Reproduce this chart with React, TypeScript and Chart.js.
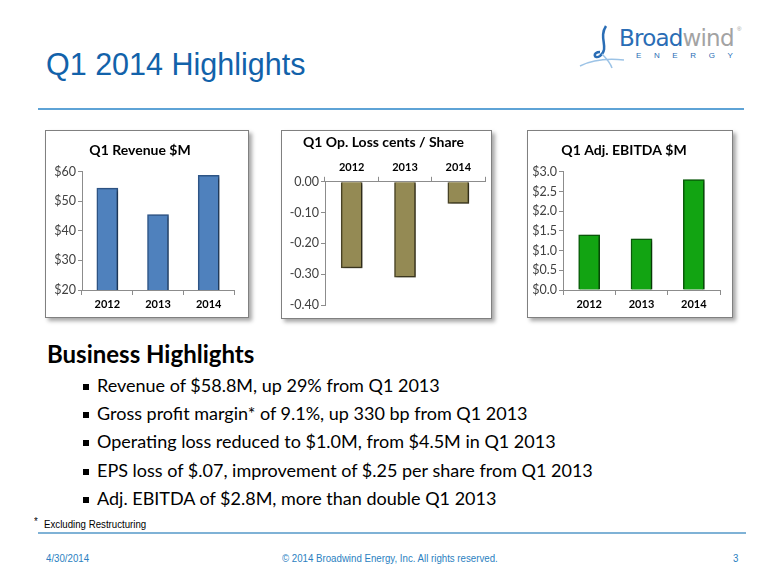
import React, { useEffect, useRef } from "react";
import { Chart, registerables } from "chart.js";

Chart.register(...registerables);

const years = ["2012", "2013", "2014"];
const revenue = [54.5, 45.5, 58.8];
const opLoss = [-0.28, -0.31, -0.07];
const ebitda = [1.4, 1.3, 2.8];

const revenueTitle = "Q1 Revenue $M";
const opLossTitle = "Q1 Op. Loss cents / Share";
const ebitdaTitle = "Q1 Adj. EBITDA $M";

const bullets = [
  "Revenue of $58.8M, up 29% from Q1 2013",
  "Gross profit margin* of 9.1%, up 330 bp from Q1 2013",
  "Operating loss reduced to $1.0M, from $4.5M in Q1 2013",
  "EPS loss of $.07, improvement of $.25 per share from Q1 2013",
  "Adj. EBITDA of $2.8M, more than double Q1 2013",
];

const FONT = "Lato, 'Open Sans', sans-serif";
const AXIS = "#8c8c8c";

const barShadow = {
  id: "barShadow",
  beforeDatasetsDraw(chart: any) {
    const c = chart.ctx;
    c.save();
    c.shadowColor = "rgba(0,0,0,0.45)";
    c.shadowBlur = 3;
    c.shadowOffsetX = 2;
    c.shadowOffsetY = 1;
  },
  afterDatasetsDraw(chart: any) {
    chart.ctx.restore();
  },
};

type BoxProps = {
  left: number;
  top: number;
  width: number;
  height: number;
  build: () => any;
};

function ChartBox({ left, top, width, height, build }: BoxProps) {
  const ref = useRef<HTMLCanvasElement | null>(null);
  useEffect(() => {
    if (!ref.current) return;
    const chart = new Chart(ref.current, build());
    return () => chart.destroy();
  }, []);
  return (
    <div
      style={{
        position: "absolute",
        left,
        top,
        width,
        height,
        boxSizing: "border-box",
        border: "1px solid #808080",
        background: "#fff",
        boxShadow: "3px 3px 4px rgba(0,0,0,0.35)",
      }}
    >
      <canvas
        ref={ref}
        width={width - 2}
        height={height - 2}
        style={{ display: "block", width: width - 2, height: height - 2 }}
      />
    </div>
  );
}

function baseConfig(opts: {
  title: string;
  data: number[];
  fill: string;
  edge: string;
  yMin: number;
  yMax: number;
  step: number;
  fmt: (v: number) => string;
  yWidth: number;
  xHeight: number;
  xTop: boolean;
  padRight: number;
  padBottom: number;
  titlePad: { top: number; bottom: number };
}) {
  return {
    type: "bar",
    data: {
      labels: years,
      datasets: [
        {
          data: opts.data,
          backgroundColor: opts.fill,
          borderColor: opts.edge,
          borderWidth: 1.5,
          barThickness: 21,
        },
      ],
    },
    plugins: [barShadow],
    options: {
      responsive: false,
      animation: false,
      layout: { padding: { left: 0, top: 0, right: opts.padRight, bottom: opts.padBottom } },
      plugins: {
        legend: { display: false },
        tooltip: { enabled: false },
        title: {
          display: true,
          text: opts.title,
          color: "#000",
          font: { family: FONT, size: 14, weight: "bold" },
          padding: opts.titlePad,
        },
      },
      scales: {
        x: {
          position: opts.xTop ? "top" : "bottom",
          afterFit: (s: any) => {
            s.height = opts.xHeight;
          },
          grid: {
            offset: true,
            drawOnChartArea: false,
            drawTicks: true,
            tickLength: 5,
            color: AXIS,
          },
          border: { display: true, color: AXIS },
          ticks: {
            color: "#000",
            padding: 3,
            font: { family: FONT, size: 11, weight: "bold" },
          },
        },
        y: {
          min: opts.yMin,
          max: opts.yMax,
          afterFit: (s: any) => {
            s.width = opts.yWidth;
          },
          grid: {
            drawOnChartArea: false,
            drawTicks: true,
            tickLength: 4,
            color: AXIS,
          },
          border: { display: true, color: AXIS },
          ticks: {
            stepSize: opts.step,
            color: "#404040",
            padding: 2,
            font: { family: FONT, size: 12.5 },
            callback: (v: any) => opts.fmt(Number(v)),
          },
        },
      },
    },
  };
}

const buildRevenue = () =>
  baseConfig({
    title: revenueTitle,
    data: revenue,
    fill: "#4f81bd",
    edge: "#2f5688",
    yMin: 20,
    yMax: 60,
    step: 10,
    fmt: (v) => "$" + v,
    yWidth: 36,
    xHeight: 27,
    xTop: false,
    padRight: 14,
    padBottom: 0,
    titlePad: { top: 11, bottom: 13 },
  });

const buildOpLoss = () =>
  baseConfig({
    title: opLossTitle,
    data: opLoss,
    fill: "#948a54",
    edge: "#4a4426",
    yMin: -0.4,
    yMax: 0,
    step: 0.1,
    fmt: (v) => v.toFixed(2),
    yWidth: 43,
    xHeight: 29,
    xTop: true,
    padRight: 6,
    padBottom: 13,
    titlePad: { top: 3, bottom: 2 },
  });

const buildEbitda = () =>
  baseConfig({
    title: ebitdaTitle,
    data: ebitda,
    fill: "#12a412",
    edge: "#0a5c0a",
    yMin: 0,
    yMax: 3,
    step: 0.5,
    fmt: (v) => "$" + v.toFixed(1),
    yWidth: 35,
    xHeight: 27,
    xTop: false,
    padRight: 12,
    padBottom: 0,
    titlePad: { top: 11, bottom: 13 },
  });

export default function App() {
  useEffect(() => {
    document.body.style.margin = "0";
  }, []);
  const abs = (s: React.CSSProperties): React.CSSProperties => ({
    position: "absolute",
    whiteSpace: "nowrap",
    ...s,
  });
  const footFont = "'Liberation Sans', Arial, sans-serif";
  const narrow: React.CSSProperties = {
    fontFamily: footFont,
    fontSize: 11,
    lineHeight: "13px",
    transform: "scaleX(0.88)",
    transformOrigin: "left center",
  };
  return (
    <div
      style={{
        position: "absolute",
        left: 0,
        top: 0,
        width: 780,
        height: 585,
        background: "#fff",
        overflow: "hidden",
      }}
    >
      <div
        style={abs({
          left: 46,
          top: 49,
          fontFamily: "'Liberation Sans', Arial, sans-serif",
          fontSize: 30.5,
          lineHeight: "30px",
          color: "#1262aa",
        })}
      >
        Q1 2014 Highlights
      </div>

      {/* logo */}
      <svg style={{ position: "absolute", left: 578, top: 22 }} width={52} height={48}>
        <path d="M28 4 C 20 16, 32 26, 22 34 C 16 38, 14 30, 22 30" stroke="#2a6db5" strokeWidth={2.5} fill="none" />
        <path d="M2 44 C 14 38, 28 36, 46 38" stroke="#9cc3e6" strokeWidth={1.5} fill="none" />
        <path d="M24 32 C 28 36, 32 40, 34 46" stroke="#9cc3e6" strokeWidth={1.5} fill="none" />
      </svg>
      <div
        style={abs({
          left: 619,
          top: 25,
          fontFamily: "'DejaVu Sans', sans-serif",
          fontSize: 23,
          lineHeight: "26px",
          letterSpacing: -0.8,
        })}
      >
        <span style={{ color: "#2a6db5" }}>Broad</span>
        <span style={{ color: "#a3a3a3" }}>wind</span>
      </div>
      <div style={abs({ left: 737, top: 26, fontSize: 6, color: "#999", fontFamily: "sans-serif" })}>®</div>
      <div
        style={abs({
          left: 636,
          top: 51,
          fontFamily: "'Liberation Sans', sans-serif",
          fontSize: 8,
          lineHeight: "9px",
          letterSpacing: 12.6,
          color: "#2a6db5",
        })}
      >
        ENERGY
      </div>

      <div style={abs({ left: 38, top: 108, width: 706, height: 2, background: "#5ea3d6" })} />

      <ChartBox left={45} top={130} width={204} height={188} build={buildRevenue} />
      <ChartBox left={281} top={130} width={211} height={189} build={buildOpLoss} />
      <ChartBox left={527} top={130} width={206} height={188} build={buildEbitda} />

      <div
        style={abs({
          left: 47,
          top: 340,
          fontFamily: FONT,
          fontWeight: "bold",
          fontSize: 24,
          lineHeight: 1.2,
          color: "#000",
        })}
      >
        Business Highlights
      </div>
      {bullets.map((b, i) => (
        <div
          key={i}
          style={abs({
            left: 97,
            top: 375 + i * 28.2,
            fontFamily: FONT,
            fontSize: 18,
            lineHeight: 1.2,
            color: "#000",
          })}
        >
          <span
            style={{
              position: "absolute",
              left: -14,
              top: 9,
              width: 6,
              height: 6,
              background: "#000",
            }}
          />
          {b}
        </div>
      ))}

      <div style={abs({ ...narrow, left: 34, top: 515, color: "#000" })}>*</div>
      <div style={abs({ ...narrow, left: 44, top: 518, color: "#000" })}>Excluding Restructuring</div>
      <div style={abs({ left: 38, top: 532, width: 708, height: 2, background: "#7fb2d6" })} />

      <div style={abs({ ...narrow, left: 46, top: 552, color: "#2b7fc1" })}>4/30/2014</div>
      <div style={abs({ ...narrow, left: 282, top: 552, color: "#2b7fc1" })}>
        © 2014 Broadwind Energy, Inc. All rights reserved.
      </div>
      <div style={abs({ ...narrow, left: 733, top: 552, color: "#2b7fc1" })}>3</div>
    </div>
  );
}
